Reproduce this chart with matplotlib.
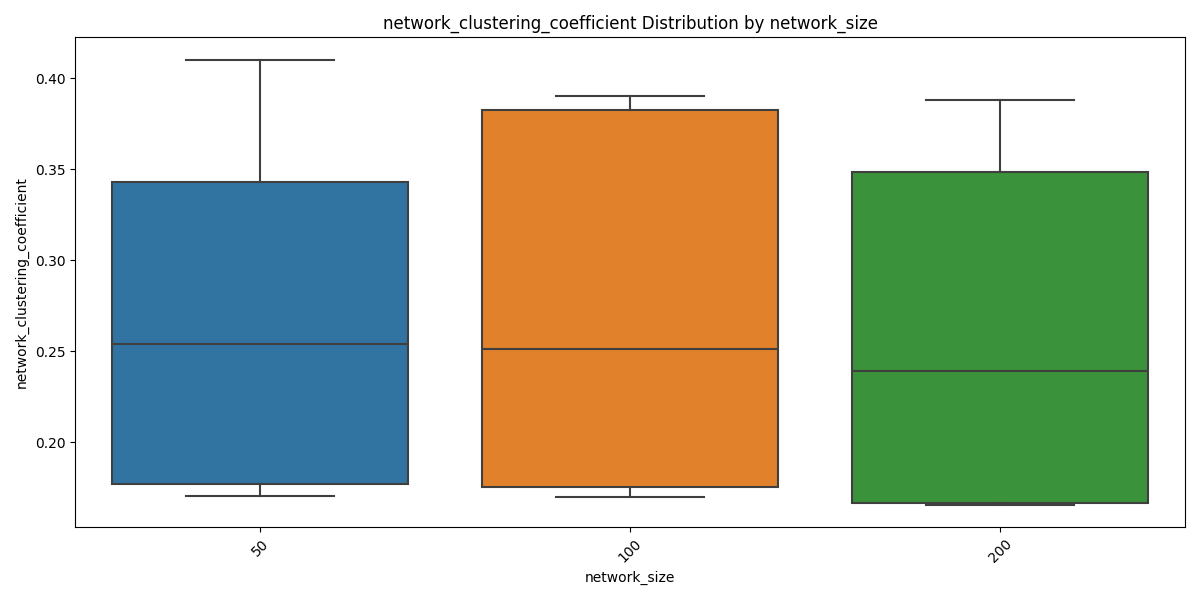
import matplotlib
matplotlib.use('Agg')
import matplotlib.pyplot as plt

# values
sizes = ['50', '100', '200']
whisker_low = [0.1705, 0.1698, 0.1654]
q1 = [0.1772, 0.1753, 0.1665]
median = [0.2541, 0.2513, 0.2392]
q3 = [0.3433, 0.3829, 0.3488]
whisker_high = [0.4100, 0.3901, 0.3879]

colors = ['#3274a1', '#e1812c', '#3a923a']
line_color = '#3f3f3f'

stats = []
for i, name in enumerate(sizes):
    stats.append({
        'label': name,
        'whislo': whisker_low[i],
        'q1': q1[i],
        'med': median[i],
        'q3': q3[i],
        'whishi': whisker_high[i],
        'fliers': [],
    })

fig, ax = plt.subplots(figsize=(12, 6), dpi=100)

bp = ax.bxp(stats, positions=range(len(sizes)), widths=0.8,
            patch_artist=True, showfliers=False,
            boxprops=dict(edgecolor=line_color, linewidth=1.5),
            medianprops=dict(color=line_color, linewidth=1.5),
            whiskerprops=dict(color=line_color, linewidth=1.5),
            capprops=dict(color=line_color, linewidth=1.5),
            capwidths=0.4)
for patch, c in zip(bp['boxes'], colors):
    patch.set_facecolor(c)

ax.set_xlim(-0.5, len(sizes) - 0.5)
ax.set_ylim(0.1533, 0.4226)
ax.set_xticks(range(len(sizes)))
ax.set_xticklabels(sizes, rotation=45)
ax.set_xlabel('network_size')
ax.set_ylabel('network_clustering_coefficient')
ax.set_title('network_clustering_coefficient Distribution by network_size')

plt.tight_layout()
plt.savefig('out.png')
